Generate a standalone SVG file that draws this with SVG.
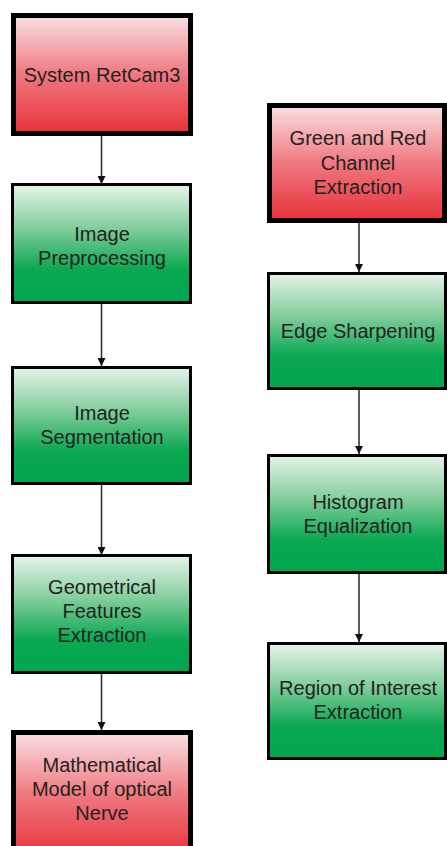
<svg xmlns="http://www.w3.org/2000/svg" width="447" height="846" viewBox="0 0 447 846">
  <defs>
    <linearGradient id="redFill" x1="0" y1="0" x2="0" y2="1">
      <stop offset="0" stop-color="#f9e1e4"/>
      <stop offset="0.5" stop-color="#ef7880"/>
      <stop offset="1" stop-color="#e8313a"/>
    </linearGradient>
    <linearGradient id="greenFill" x1="0" y1="0" x2="0" y2="1">
      <stop offset="0" stop-color="#e6f4ea"/>
      <stop offset="0.35" stop-color="#88cfa0"/>
      <stop offset="0.72" stop-color="#0aa851"/>
      <stop offset="1" stop-color="#00a64f"/>
    </linearGradient>
    <marker id="arrow" viewBox="0 0 10 10" refX="10" refY="5" markerWidth="8" markerHeight="8" markerUnits="userSpaceOnUse" orient="auto">
      <path d="M0,0 L10,5 L0,10 Z" fill="#111"/>
    </marker>
  </defs>
  <style>
    .red { fill: url(#redFill); stroke: #000; stroke-width: 5; }
    .green { fill: url(#greenFill); stroke: #000; stroke-width: 3; }
    .label { font-family: "Liberation Sans", Arial, sans-serif; font-size: 20px; fill: #222; text-anchor: middle; }
    .edge { stroke: #333; stroke-width: 1.6; fill: none; marker-end: url(#arrow); }
  </style>
  <rect width="447" height="846" fill="#fff"/>

  <g id="connectors">
    <line class="edge" x1="101.5" y1="136" x2="101.5" y2="184"/>
    <line class="edge" x1="101.5" y1="304" x2="101.5" y2="366"/>
    <line class="edge" x1="101.5" y1="485" x2="101.5" y2="555"/>
    <line class="edge" x1="101.5" y1="674" x2="101.5" y2="730"/>
    <line class="edge" x1="359" y1="223" x2="359" y2="272"/>
    <line class="edge" x1="359" y1="390" x2="359" y2="454"/>
    <line class="edge" x1="359" y1="574" x2="359" y2="642"/>
  </g>

  <g id="system-retcam3">
    <rect class="red" x="13.5" y="15.5" width="177" height="118"/>
    <text class="label" x="102" y="82">System RetCam3</text>
  </g>

  <g id="image-preprocessing">
    <rect class="green" x="12.5" y="184.5" width="178" height="118"/>
    <text class="label" x="102" y="241">Image</text>
    <text class="label" x="102" y="265">Preprocessing</text>
  </g>

  <g id="image-segmentation">
    <rect class="green" x="12.5" y="367.5" width="178" height="116"/>
    <text class="label" x="102" y="420">Image</text>
    <text class="label" x="102" y="444">Segmentation</text>
  </g>

  <g id="geometrical-features">
    <rect class="green" x="12.5" y="555.5" width="178" height="117"/>
    <text class="label" x="102" y="594">Geometrical</text>
    <text class="label" x="102" y="618">Features</text>
    <text class="label" x="102" y="642">Extraction</text>
  </g>

  <g id="mathematical-model">
    <rect class="red" x="13.5" y="732.5" width="177" height="125"/>
    <text class="label" x="102" y="772">Mathematical</text>
    <text class="label" x="102" y="796">Model of optical</text>
    <text class="label" x="102" y="820">Nerve</text>
  </g>

  <g id="green-red-channel">
    <rect class="red" x="269.5" y="105.5" width="175" height="115"/>
    <text class="label" x="358" y="145">Green and Red</text>
    <text class="label" x="358" y="170">Channel</text>
    <text class="label" x="358" y="194">Extraction</text>
  </g>

  <g id="edge-sharpening">
    <rect class="green" x="268.5" y="273.5" width="177" height="115"/>
    <text class="label" x="358" y="338">Edge Sharpening</text>
  </g>

  <g id="histogram-equalization">
    <rect class="green" x="268.5" y="455.5" width="177" height="117"/>
    <text class="label" x="358" y="509">Histogram</text>
    <text class="label" x="358" y="533">Equalization</text>
  </g>

  <g id="region-of-interest">
    <rect class="green" x="268.5" y="643.5" width="177" height="115"/>
    <text class="label" x="358" y="695">Region of Interest</text>
    <text class="label" x="358" y="719">Extraction</text>
  </g>
</svg>
